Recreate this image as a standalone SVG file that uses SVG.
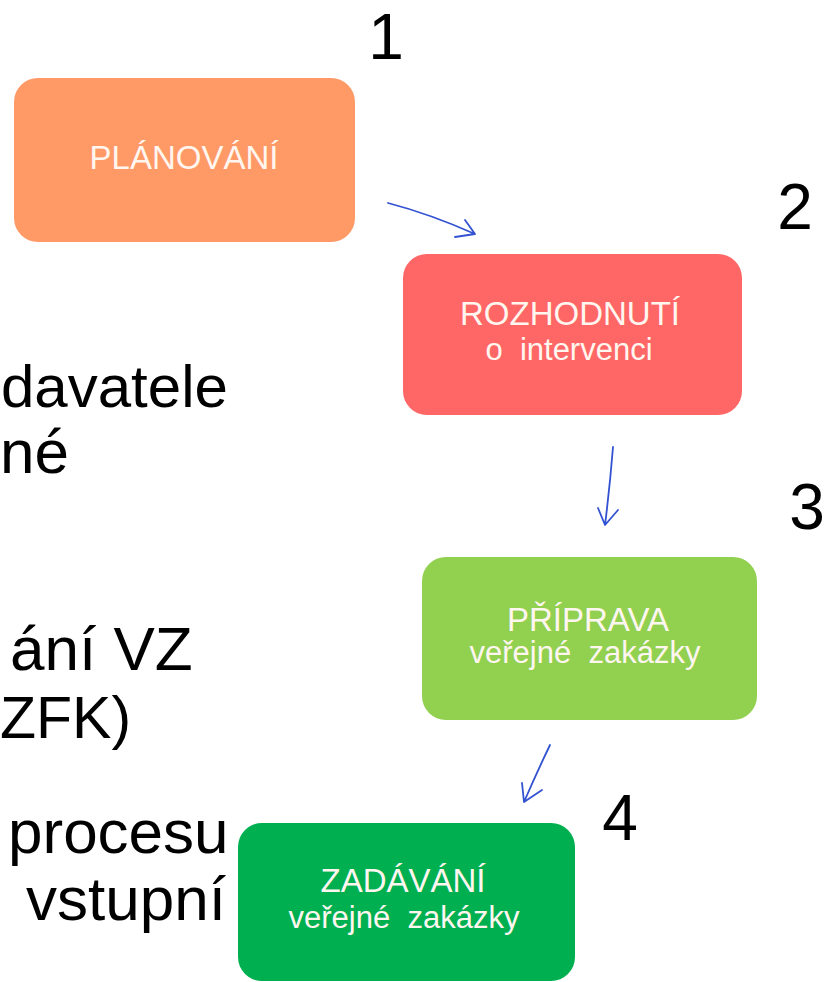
<svg xmlns="http://www.w3.org/2000/svg" width="829" height="982" viewBox="0 0 829 982">
<style>
.box-text{font-family:"Liberation Sans",Arial,sans-serif;fill:#FFF6F0;text-anchor:middle}
.t1{font-size:33px}
.t2{font-size:31px}
.num{font-family:"Liberation Sans",Arial,sans-serif;font-size:64px;fill:#000;text-anchor:middle}
.side{font-family:"Liberation Sans",Arial,sans-serif;font-size:62px;fill:#000}
.conn{fill:none;stroke:#3352D2;stroke-width:1.8;stroke-linecap:round;stroke-linejoin:round}
</style>
<rect width="829" height="982" fill="#FFFFFF"/>
<g id="side-text">
<text class="side" x="1" y="407" style="font-size:60px">davatele</text>
<text class="side" x="0" y="473">né</text>
<text class="side" x="10" y="670">ání VZ</text>
<text class="side" x="0" y="738" style="font-size:59px">ZFK)</text>
<text class="side" x="8" y="853">procesu</text>
<text class="side" x="26" y="920">vstupní</text>
</g>
<g id="node1">
<rect x="14" y="78" width="341" height="164" rx="24" fill="#FF9966"/>
<text class="box-text t1" x="184" y="169">PLÁNOVÁNÍ</text>
</g>
<g id="node2">
<rect x="403" y="254" width="339" height="161" rx="24" fill="#FF6666"/>
<text class="box-text t1" x="570" y="325">ROZHODNUTÍ</text>
<text class="box-text t2" x="569" y="360" xml:space="preserve">o  intervenci</text>
</g>
<g id="node3">
<rect x="422" y="557" width="335" height="163" rx="24" fill="#92D050"/>
<text class="box-text t1" x="588" y="631">PŘÍPRAVA</text>
<text class="box-text t2" x="585" y="663" xml:space="preserve">veřejné  zakázky</text>
</g>
<g id="node4">
<rect x="238" y="823" width="337" height="158" rx="24" fill="#00B050"/>
<text class="box-text t1" x="403" y="892">ZADÁVÁNÍ</text>
<text class="box-text t2" x="404" y="928" xml:space="preserve">veřejné  zakázky</text>
</g>
<g id="numbers">
<text class="num" x="386" y="59">1</text>
<text class="num" x="795" y="229">2</text>
<text class="num" x="807" y="529">3</text>
<text class="num" x="620" y="840">4</text>
</g>
<g id="connectors">
<path class="conn" d="M388,203 Q430,214 475,234 M465,220 L475,234 L455,237"/>
<path class="conn" d="M613,447 Q610,485 605,525 M598,508 L605,525 L618,510"/>
<path class="conn" d="M550,745 Q537,772 524,802 M522,783 L524,802 L542,790"/>
</g>
</svg>
